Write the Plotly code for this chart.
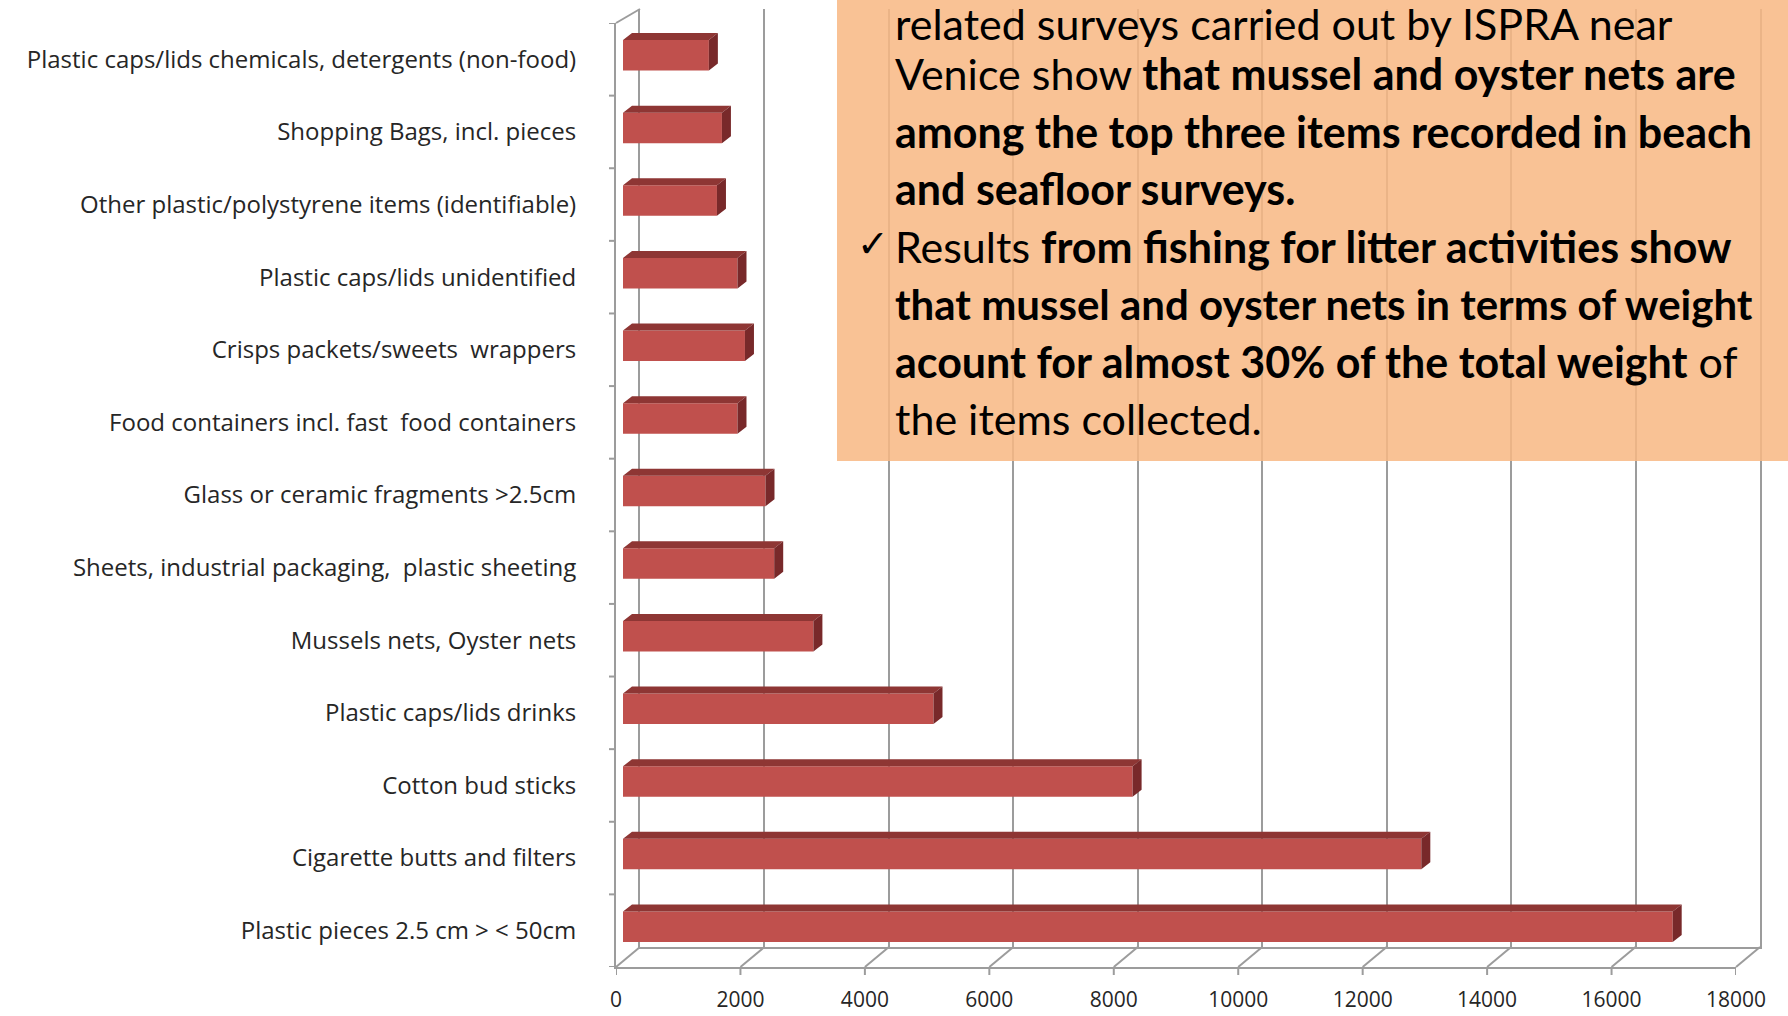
import plotly.graph_objects as go

# ---------------- data ----------------
categories = [
    "Plastic caps/lids chemicals, detergents (non-food)",
    "Shopping Bags, incl. pieces",
    "Other plastic/polystyrene items (identifiable)",
    "Plastic caps/lids unidentified",
    "Crisps packets/sweets  wrappers",
    "Food containers incl. fast  food containers",
    "Glass or ceramic fragments >2.5cm",
    "Sheets, industrial packaging,  plastic sheeting",
    "Mussels nets, Oyster nets",
    "Plastic caps/lids drinks",
    "Cotton bud sticks",
    "Cigarette butts and filters",
    "Plastic pieces 2.5 cm > < 50cm",
]
values = [1380, 1590, 1510, 1840, 1960, 1840, 2290, 2430, 3060, 4990, 8190, 12830, 16870]
x_ticks = [0, 2000, 4000, 6000, 8000, 10000, 12000, 14000, 16000, 18000]
x_tick_text = ["0", "2000", "4000", "6000", "8000", "10000", "12000", "14000", "16000", "18000"]

text_lines = [
    "related surveys carried out by ISPRA near",
    "Venice show <b>that mussel and oyster nets are</b>",
    "<b>among the top three items recorded in beach</b>",
    "<b>and seafloor surveys.</b>",
    "Results <b>from fishing for litter activities show</b>",
    "<b>that mussel and oyster nets in terms of weight</b>",
    "<b>acount for almost 30% of the total weight</b> of",
    "the items collected.",
]

# ---------------- geometry helpers ----------------
W, H = 1788, 1016
XMAX = 18000
n = len(categories)


def fx(px):
    return px / W


def fy(py):
    return 1 - py / H


front_x = [616, 1736]
front_y = [967, 23]
back_x = [640, 1760]
back_y = [947, 9]
bar_x = [623, 1743]
bar_y = [963, 19]

slot_px = (front_y[0] - front_y[1]) / n
px_per_unit = (front_x[1] - front_x[0]) / XMAX
dxu = 9 / px_per_unit
dyu = 7 / slot_px
half = 0.21

GRID = "#9C9C9C"
TXT = "#262626"
FONT = "Lato"
LABEL_FONT = "Open Sans"

fig = go.Figure()

# bars (front faces)
fig.add_trace(go.Bar(
    x=values, y=list(range(n)), orientation="h", width=2 * half,
    marker=dict(color="#C0504D", line=dict(width=0)),
    xaxis="x2", yaxis="y2", hovertext=categories, hoverinfo="x+text",
))

# top faces and side faces derived from the values
tx, ty, sx, sy = [], [], [], []
for i, v in enumerate(values):
    top = i - half
    bot = i + half
    tx += [0, v, v + dxu, dxu, 0, None]
    ty += [top, top, top - dyu, top - dyu, top, None]
    sx += [v, v + dxu, v + dxu, v, v, None]
    sy += [top, top - dyu, bot - dyu, bot, top, None]

fig.add_trace(go.Scatter(x=tx, y=ty, fill="toself", mode="lines",
                         line=dict(width=0), fillcolor="#8E3634",
                         xaxis="x2", yaxis="y2", hoverinfo="skip"))
fig.add_trace(go.Scatter(x=sx, y=sy, fill="toself", mode="lines",
                         line=dict(width=0), fillcolor="#78292A",
                         xaxis="x2", yaxis="y2", hoverinfo="skip"))

# invisible helper traces so that the back and front subplots exist
fig.add_trace(go.Scatter(x=[0, XMAX], y=[0, n - 1], mode="markers",
                         marker=dict(opacity=0), xaxis="x", yaxis="y",
                         hoverinfo="skip"))
fig.add_trace(go.Scatter(x=[0, XMAX], y=[0, n - 1], mode="markers",
                         marker=dict(opacity=0), xaxis="x3", yaxis="y3",
                         hoverinfo="skip"))

# ---------------- shapes ----------------
shapes = []


def front_px(v):
    return fx(front_x[0] + (front_x[1] - front_x[0]) * v / XMAX)


def back_px(v):
    return fx(back_x[0] + (back_x[1] - back_x[0]) * v / XMAX)


line_style = dict(color=GRID, width=2)
for t in x_ticks:
    # floor diagonal
    shapes.append(dict(type="line", xref="paper", yref="paper",
                       x0=front_px(t), y0=fy(front_y[0]),
                       x1=back_px(t), y1=fy(back_y[0]),
                       line=line_style, layer="below"))
    # small tick mark below the front edge
    shapes.append(dict(type="line", xref="x3", yref="paper",
                       x0=t, x1=t, y0=fy(front_y[0]), y1=fy(front_y[0] + 8),
                       line=line_style, layer="below"))
shapes.append(dict(type="line", xref="paper", yref="paper",
                   x0=front_px(0), y0=fy(front_y[1]),
                   x1=back_px(0), y1=fy(back_y[1]),
                   line=line_style, layer="below"))
# category boundary ticks on the left axis
for i in range(n + 1):
    shapes.append(dict(type="line", xref="paper", yref="y3",
                       x0=fx(front_x[0] - 7), x1=fx(front_x[0]),
                       y0=i - 0.5, y1=i - 0.5, line=line_style, layer="below"))

# orange text box
shapes.append(dict(type="rect", xref="paper", yref="paper",
                   x0=fx(837), x1=1.0, y0=fy(461), y1=1.0,
                   fillcolor="#F8B883", opacity=0.86,
                   line=dict(width=0), layer="above"))

annotations = []
line_centers = [24, 74, 131, 188.5, 246, 303.5, 361, 418.5]
line_sizes = [43, 43, 43, 43, 43, 42, 43, 43]
for line, yc, fs in zip(text_lines, line_centers, line_sizes):
    annotations.append(dict(
        xref="paper", yref="paper", x=fx(893), y=fy(yc),
        xanchor="left", yanchor="middle", showarrow=False, align="left",
        text=line, font=dict(family=FONT, size=fs, color="black"),
    ))
annotations.append(dict(
    xref="paper", yref="paper", x=fx(891), y=fy(line_centers[4] - 2),
    xanchor="right", yanchor="middle", showarrow=False,
    text="✓", font=dict(family="DejaVu Sans", size=38, color="black"),
))

fig.update_layout(
    width=W, height=H,
    margin=dict(l=0, r=0, t=0, b=0, pad=0, autoexpand=False),
    paper_bgcolor="white", plot_bgcolor="rgba(0,0,0,0)",
    showlegend=False,
    font=dict(family=FONT, color=TXT),
    # back wall
    xaxis=dict(domain=[fx(back_x[0]), fx(back_x[1])], range=[0, XMAX],
               tickvals=x_ticks, showgrid=True, gridcolor=GRID, gridwidth=2,
               showticklabels=False, zeroline=False, showline=True,
               linecolor=GRID, linewidth=2, anchor="y", automargin=False),
    yaxis=dict(domain=[fy(back_y[0]), fy(back_y[1])], range=[n - 0.5, -0.5],
               showgrid=False, zeroline=False, showticklabels=False,
               showline=True, mirror=True, linecolor=GRID, linewidth=2,
               anchor="x", automargin=False),
    # bars
    xaxis2=dict(domain=[fx(bar_x[0]), fx(bar_x[1])], range=[0, XMAX],
                showgrid=False, showticklabels=False, zeroline=False,
                showline=False, anchor="y2", automargin=False),
    yaxis2=dict(domain=[fy(bar_y[0]), fy(bar_y[1])], range=[n - 0.5, -0.5],
                showgrid=False, zeroline=False, showticklabels=False,
                showline=False, anchor="x2", automargin=False),
    # front frame
    xaxis3=dict(domain=[fx(front_x[0]), fx(front_x[1])], range=[0, XMAX],
                tickvals=x_ticks, ticktext=x_tick_text,
                showgrid=False, zeroline=False,
                showline=True, linecolor=GRID, linewidth=2,
                ticks="outside", ticklen=13, tickcolor="rgba(0,0,0,0)",
                tickfont=dict(family=LABEL_FONT, size=21, color=TXT),
                anchor="y3", automargin=False),
    yaxis3=dict(domain=[fy(front_y[0]), fy(front_y[1])], range=[n - 0.5, -0.5],
                tickvals=list(range(n)), ticktext=categories,
                showgrid=False, zeroline=False,
                ticks="outside", ticklen=33, tickcolor="rgba(0,0,0,0)",
                showline=True, linecolor=GRID, linewidth=2,
                tickfont=dict(family=LABEL_FONT, size=24, color=TXT),
                anchor="x3", automargin=False),
    shapes=shapes,
    annotations=annotations,
)

fig.write_html(
    "out.html",
    config={"displayModeBar": False},
    post_script=(
        "document.documentElement.style.margin='0';"
        "document.documentElement.style.overflow='hidden';"
        "document.body.style.margin='0';"
        "document.body.style.overflow='hidden';"
    ),
)
